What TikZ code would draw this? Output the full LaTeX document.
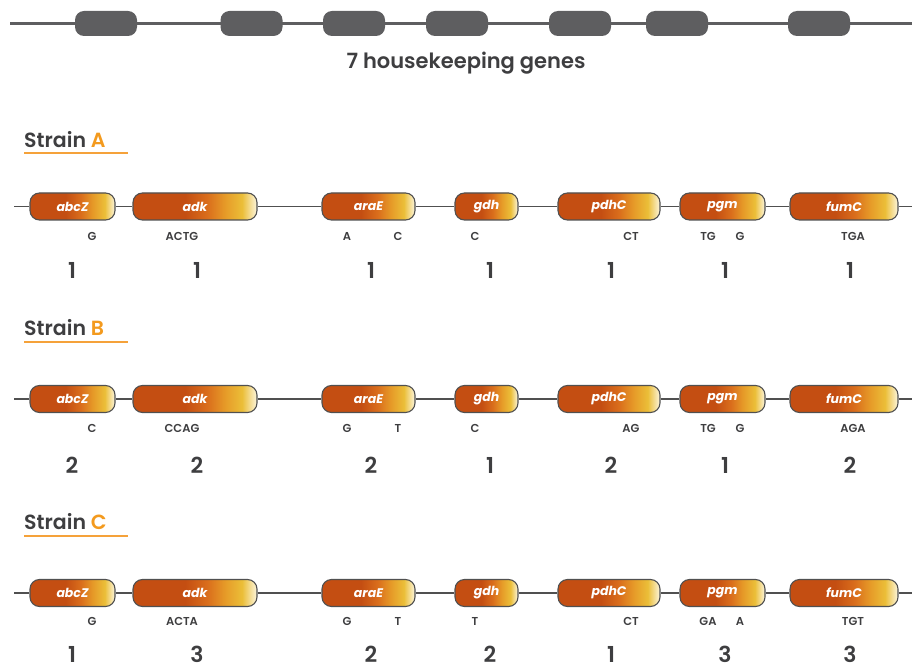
\documentclass[tikz,border=0pt]{standalone}
\usepackage{fontspec}
\setmainfont{Poppins}
\newfontfamily\psemi{Poppins SemiBold}
\definecolor{txt}{HTML}{3E3E40}
\definecolor{bar}{HTML}{5E5E60}
\definecolor{lineg}{HTML}{505050}
\definecolor{strainor}{HTML}{F39A1E}
\definecolor{ulcol}{HTML}{F5A23A}
\definecolor{dor}{HTML}{C44E12}
\definecolor{mor}{HTML}{DA6E1C}
\definecolor{oyel}{HTML}{E69A28}
\definecolor{yel}{HTML}{EBBE38}
\definecolor{crm}{HTML}{FBF1D0}
\pgfdeclarehorizontalshading{geneshade}{100bp}{color(0bp)=(dor); color(25bp)=(dor); color(46bp)=(dor); color(55bp)=(mor); color(62bp)=(oyel); color(69bp)=(yel); color(74.5bp)=(crm); color(100bp)=(crm)}
\tikzset{
  hk/.style={draw=none, fill=bar, rounded corners=9pt, minimum width=62pt, minimum height=25pt, inner sep=0pt},
  gene/.style={draw=lineg, line width=1.1pt, shading=geneshade, rounded corners=9.5pt, minimum height=27pt, inner sep=0pt, text=white, font=\fontsize{12.5}{12.5}\selectfont\bfseries\itshape},
  chrom/.style={draw=lineg, line width=1.3pt},
  seq/.style={text=txt, font=\psemi\fontsize{11.5}{12}\selectfont, inner sep=0pt},
  num/.style={text=txt, font=\psemi\fontsize{22}{22}\selectfont, inner sep=0pt},
  strain/.style={text=txt, font=\psemi\fontsize{20.5}{20.5}\selectfont, anchor=west, inner sep=0pt},
  uline/.style={line width=2pt, draw=ulcol},
}
\begin{document}
\begin{tikzpicture}[x=1pt,y=-1pt]
\useasboundingbox (0,0) rectangle (912,668);
% top chromosome
\coordinate (t0) at (10,23.5);
\coordinate (t8) at (912,23.5);
\draw[draw=bar, line width=2.4pt] (t0) -- (t8);
\foreach \i/\xx in {1/106,2/251.5,3/354,4/457,5/580,6/677,7/819}{
  \node[hk] (t\i) at (\xx,23.5) {};
}
\node[text=txt, font=\psemi\fontsize{21}{21}\selectfont] (title) at (466,63) {7 housekeeping genes};

% strains
\foreach \s/\ly/\ry/\sy/\ny/\seqs/\nums in {
  A/140/206.5/236.5/270/{G,ACTG,A,C,C,CT,TG,G,TGA}/{1,1,1,1,1,1,1},
  B/328/399/428.5/465/{C,CCAG,G,T,C,AG,TG,G,AGA}/{2,2,2,1,2,1,2},
  C/522/593/621.5/654/{G,ACTA,G,T,T,CT,GA,A,TGT}/{1,3,2,2,1,3,3}}{
  \node[strain] (lab\s) at (24,\ly) {Strain \textcolor{strainor}{\s}};
  \coordinate (ul\s a) at (24,\ly+13.5);
  \coordinate (ul\s b) at (128,\ly+13.5);
  \draw[uline] (ul\s a) -- (ul\s b);
  \coordinate (g\s0) at (14,\ry);
  \coordinate (g\s8) at (912,\ry);
  \foreach \i/\xx/\w/\n in {1/72.5/85/abcZ,2/195/124/adk,3/368.5/93/araE,4/486.5/63/gdh,5/609/102/pdhC,6/722.5/85/pgm,7/844/108/fumC}{
    \node[gene, minimum width=\w pt] (g\s\i) at (\xx,\ry) {\n};
  }
  \draw[chrom] (g\s0) -- (g\s1) (g\s1) -- (g\s2) (g\s2) -- (g\s3) (g\s3) -- (g\s4) (g\s4) -- (g\s5) (g\s5) -- (g\s6) (g\s6) -- (g\s7) (g\s7) -- (g\s8);
  \foreach \t [count=\k] in \seqs {
    \pgfmathsetmacro{\sx}{{92,182,347,398,475,631,708,740,853}[\k-1]}
    \node[seq] (q\s\k) at (\sx,\sy) {\t};
  }
  \foreach \t [count=\k] in \nums {
    \pgfmathsetmacro{\nx}{{72,197,371,490,611,725,850}[\k-1]}
    \node[num] (n\s\k) at (\nx,\ny) {\t};
  }
}
\end{tikzpicture}
\end{document}
